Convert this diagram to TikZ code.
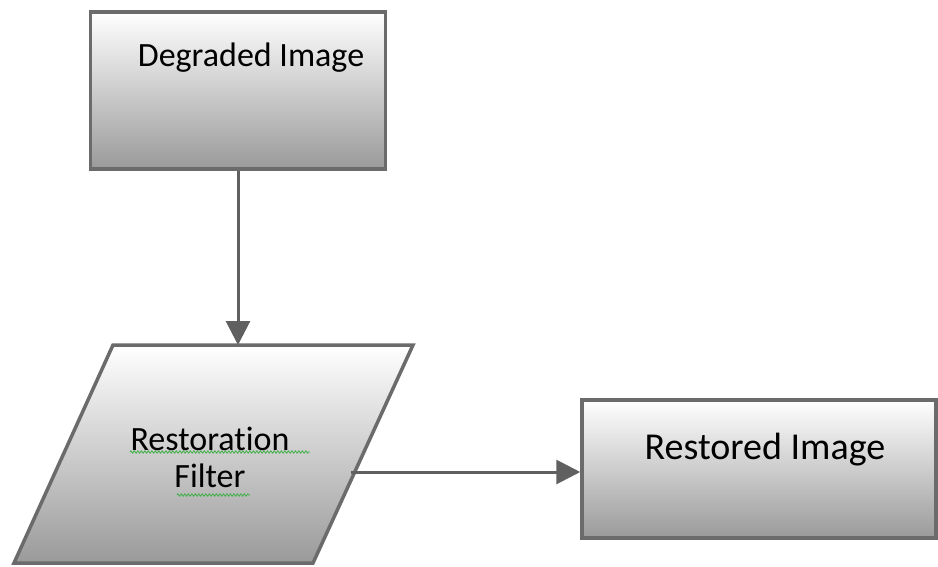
\documentclass[tikz,border=0pt]{standalone}
\usepackage{fontspec}
\setmainfont[Ligatures=NoCommon]{Carlito}
\usepackage{tikz}
\usetikzlibrary{shapes,arrows.meta}
\usetikzlibrary{positioning}
\usetikzlibrary{decorations.pathmorphing}
\usepackage{xcolor}

\definecolor{edgegray}{HTML}{6B6B6B}
\definecolor{lowgray}{HTML}{9A9A9A}
\definecolor{squiggle}{HTML}{3CB043}

\begin{document}
\begin{tikzpicture}[x=1pt,y=-1pt,
  box/.style={draw=edgegray,line width=3.5pt,top color=white,bottom color=lowgray,
    minimum width=295pt,minimum height=157pt,inner sep=0pt},
  slanted/.style={draw=edgegray,line width=3.5pt,line join=miter,top color=white,
    bottom color=lowgray},
  flow/.style={draw=edgegray!90!black,line width=3pt,-{Triangle[width=24pt,length=24pt]}},
  lbl/.style={font=\fontsize{34}{40}\selectfont,inner sep=0pt,align=center},
  spell/.style={draw=squiggle,line width=0.8pt,decorate,
    decoration={zigzag,amplitude=1.2pt,segment length=3.5pt}}]

  \useasboundingbox (0,0) rectangle (938,566);

  % degraded image
  \node[box] (degraded) at (238,90.5) {};
  \node[lbl] (degradedtxt) at (251,58) {Degraded Image};

  % restoration filter
  \shadedraw[slanted] (113,345) -- (413,345) -- (313,563) -- (14,563) -- cycle;
  \coordinate (filtertop) at (238,345);
  \coordinate (fout) at (351,472);
  \node[lbl] (filtertxt) at (210,457) {Restoration\\[-3pt]Filter};
  \draw[spell] (130,452) -- (310,452);
  \draw[spell] (177,495) -- (250,495);

  % restored image
  \node[box,minimum width=354pt,minimum height=138pt] (restored) at (759,469) {};
  \node[lbl,font=\fontsize{38}{44}\selectfont] (restoredtxt) at (765,450) {Restored Image};

  % connectors
  \draw[flow] (degraded.south) -- (filtertop);
  \draw[flow] (fout) -- (fout -| restored.west);

\end{tikzpicture}
\end{document}
